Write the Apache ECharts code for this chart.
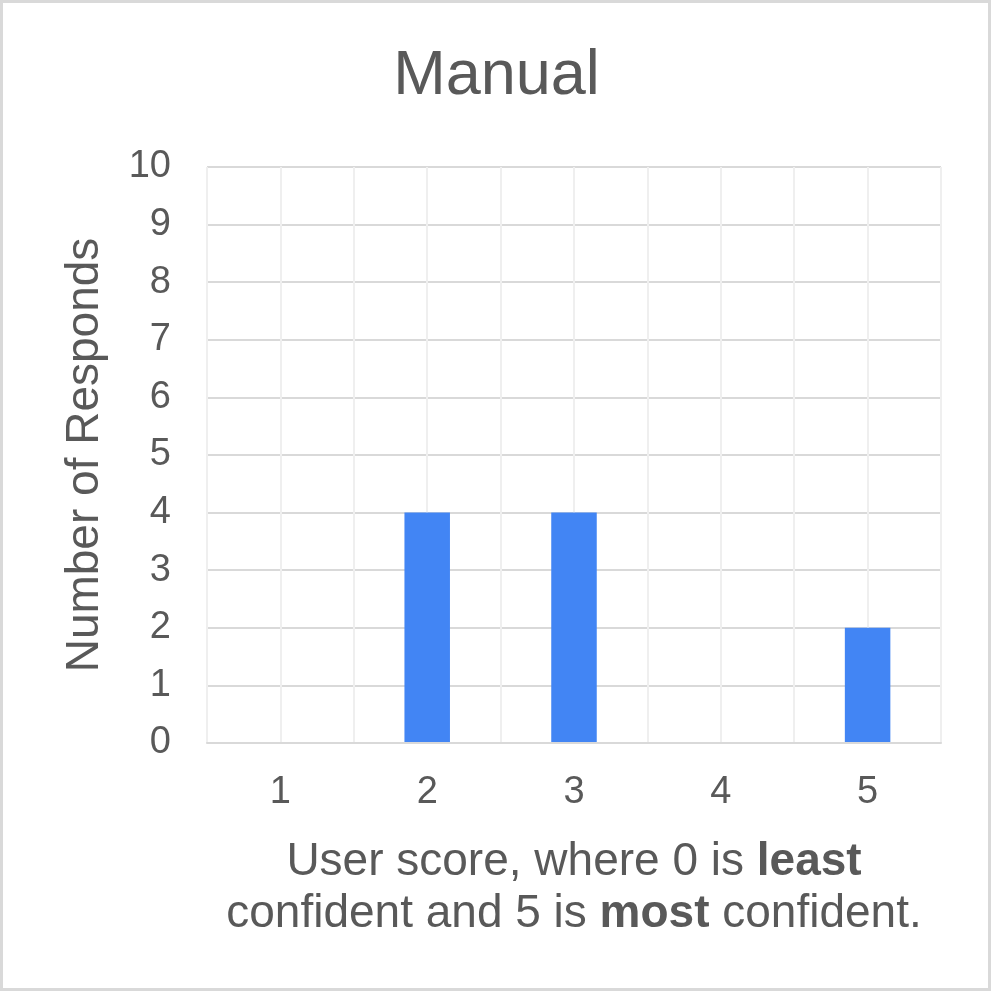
<!DOCTYPE html>
<html>
<head>
<meta charset="utf-8">
<script src="https://cdn.jsdelivr.net/npm/echarts@6/dist/echarts.min.js"></script>
<style>
html,body{margin:0;padding:0;background:#fff;}
#chart{width:993px;height:993px;}
</style>
</head>
<body>
<div id="chart"></div>
<script>
const titleText = "Manual";
const categories = ["1", "2", "3", "4", "5"];
const responds = [0, 4, 4, 0, 2];
const yTicks = { min: 0, max: 10, interval: 1 };
const yAxisName = "Number of Responds";
const xAxisName = "User score, where 0 is {b|least}\nconfident and 5 is {b|most} confident.";

const textColor = "#595959";
const font = "'Liberation Sans', Arial, sans-serif";

const chart = echarts.init(document.getElementById('chart'), null, { renderer: 'canvas' });
chart.setOption({
  backgroundColor: '#ffffff',
  animation: false,
  title: {
    text: titleText,
    left: 'center',
    top: 40,
    textStyle: { color: textColor, fontSize: 63, fontWeight: 'normal', fontFamily: font }
  },
  graphic: [{
    type: 'rect',
    shape: { x: 1.5, y: 1.5, width: 988, height: 988 },
    style: { fill: 'none', stroke: '#d9d9d9', lineWidth: 3 },
    silent: true
  }],
  grid: { left: 207, right: 52, top: 167, bottom: 250, containLabel: false },
  xAxis: [{
    type: 'category',
    data: categories,
    boundaryGap: true,
    axisLine: { show: true, lineStyle: { color: '#d9d9d9', width: 2 } },
    axisTick: { show: false },
    splitLine: { show: false },
    axisLabel: { color: textColor, fontSize: 38, fontFamily: font, margin: 31 },
    name: xAxisName,
    nameLocation: 'middle',
    nameGap: 93,
    nameTextStyle: {
      color: textColor, fontSize: 46, fontFamily: font, lineHeight: 52, align: 'center',
      rich: { b: { fontWeight: 'bold', color: textColor, fontSize: 46, fontFamily: font, lineHeight: 52 } }
    },
    z: 3
  }, {
    type: 'value',
    min: 0, max: 10, interval: 1,
    position: 'bottom',
    show: true,
    axisLine: { show: false },
    axisTick: { show: false },
    axisLabel: { show: false },
    splitLine: { show: true, lineStyle: { color: '#efefef', width: 2 } },
    z: 0
  }],
  yAxis: {
    type: 'value',
    min: yTicks.min, max: yTicks.max, interval: yTicks.interval,
    axisLine: { show: false },
    axisTick: { show: false },
    axisLabel: { color: textColor, fontSize: 38, fontFamily: font, margin: 36 },
    splitLine: { show: true, lineStyle: { color: '#d9d9d9', width: 2 } },
    name: yAxisName,
    nameLocation: 'middle',
    nameGap: 99,
    nameTextStyle: { color: textColor, fontSize: 46, fontFamily: font }
  },
  series: [{
    type: 'bar',
    xAxisIndex: 0,
    data: responds,
    barWidth: '31%',
    itemStyle: { color: '#4285f4' },
    z: 2
  }]
});
</script>
</body>
</html>
